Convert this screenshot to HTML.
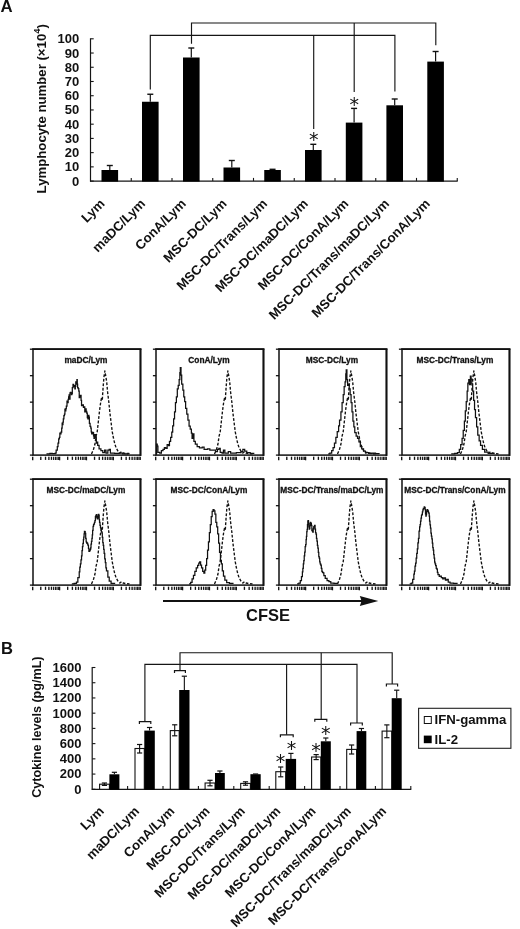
<!DOCTYPE html>
<html><head><meta charset="utf-8"><title>Figure</title>
<style>
html,body{margin:0;padding:0;background:#fff;}
body{width:520px;height:929px;overflow:hidden;}
svg{display:block;}
svg text{font-family:"Liberation Sans", sans-serif;fill:#111;}
</style></head><body>
<svg width="520" height="929" viewBox="0 0 520 929">
<rect x="0" y="0" width="520" height="929" fill="#fff"/>
<g id="panelA">
<text x="0.40" y="12.10" font-size="16.8" font-weight="bold" text-anchor="start" >A</text>
<text x="46.20" y="193.40" font-size="13.2" font-weight="bold" text-anchor="start" transform="rotate(-90 46.20 193.40)" >Lymphocyte number (×10<tspan font-size="9.5" dy="-6.3">4</tspan><tspan dy="6.3">)</tspan></text>
<line x1="90.50" y1="38.30" x2="90.50" y2="181.60" stroke="#151515" stroke-width="1.2" />
<line x1="90.00" y1="181.10" x2="457.75" y2="181.10" stroke="#151515" stroke-width="1.2" />
<line x1="90.50" y1="181.10" x2="93.70" y2="181.10" stroke="#151515" stroke-width="1.1" />
<text x="79.30" y="185.60" font-size="13" font-weight="bold" text-anchor="end" >0</text>
<line x1="90.50" y1="166.87" x2="93.70" y2="166.87" stroke="#151515" stroke-width="1.1" />
<text x="79.30" y="171.37" font-size="13" font-weight="bold" text-anchor="end" >10</text>
<line x1="90.50" y1="152.64" x2="93.70" y2="152.64" stroke="#151515" stroke-width="1.1" />
<text x="79.30" y="157.14" font-size="13" font-weight="bold" text-anchor="end" >20</text>
<line x1="90.50" y1="138.41" x2="93.70" y2="138.41" stroke="#151515" stroke-width="1.1" />
<text x="79.30" y="142.91" font-size="13" font-weight="bold" text-anchor="end" >30</text>
<line x1="90.50" y1="124.18" x2="93.70" y2="124.18" stroke="#151515" stroke-width="1.1" />
<text x="79.30" y="128.68" font-size="13" font-weight="bold" text-anchor="end" >40</text>
<line x1="90.50" y1="109.95" x2="93.70" y2="109.95" stroke="#151515" stroke-width="1.1" />
<text x="79.30" y="114.45" font-size="13" font-weight="bold" text-anchor="end" >50</text>
<line x1="90.50" y1="95.72" x2="93.70" y2="95.72" stroke="#151515" stroke-width="1.1" />
<text x="79.30" y="100.22" font-size="13" font-weight="bold" text-anchor="end" >60</text>
<line x1="90.50" y1="81.49" x2="93.70" y2="81.49" stroke="#151515" stroke-width="1.1" />
<text x="79.30" y="85.99" font-size="13" font-weight="bold" text-anchor="end" >70</text>
<line x1="90.50" y1="67.26" x2="93.70" y2="67.26" stroke="#151515" stroke-width="1.1" />
<text x="79.30" y="71.76" font-size="13" font-weight="bold" text-anchor="end" >80</text>
<line x1="90.50" y1="53.03" x2="93.70" y2="53.03" stroke="#151515" stroke-width="1.1" />
<text x="79.30" y="57.53" font-size="13" font-weight="bold" text-anchor="end" >90</text>
<line x1="90.50" y1="38.80" x2="93.70" y2="38.80" stroke="#151515" stroke-width="1.1" />
<text x="79.30" y="43.30" font-size="13" font-weight="bold" text-anchor="end" >100</text>
<line x1="131.25" y1="181.10" x2="131.25" y2="177.90" stroke="#151515" stroke-width="1.1" />
<line x1="172.00" y1="181.10" x2="172.00" y2="177.90" stroke="#151515" stroke-width="1.1" />
<line x1="212.75" y1="181.10" x2="212.75" y2="177.90" stroke="#151515" stroke-width="1.1" />
<line x1="253.50" y1="181.10" x2="253.50" y2="177.90" stroke="#151515" stroke-width="1.1" />
<line x1="294.25" y1="181.10" x2="294.25" y2="177.90" stroke="#151515" stroke-width="1.1" />
<line x1="335.00" y1="181.10" x2="335.00" y2="177.90" stroke="#151515" stroke-width="1.1" />
<line x1="375.75" y1="181.10" x2="375.75" y2="177.90" stroke="#151515" stroke-width="1.1" />
<line x1="416.50" y1="181.10" x2="416.50" y2="177.90" stroke="#151515" stroke-width="1.1" />
<line x1="457.25" y1="181.10" x2="457.25" y2="177.90" stroke="#151515" stroke-width="1.1" />
<rect x="101.50" y="170.00" width="16.60" height="11.60" fill="#000"/>
<line x1="109.80" y1="170.00" x2="109.80" y2="165.50" stroke="#111" stroke-width="1.2" />
<line x1="106.80" y1="165.50" x2="112.80" y2="165.50" stroke="#111" stroke-width="1.4" />
<rect x="142.00" y="101.75" width="16.60" height="79.85" fill="#000"/>
<line x1="150.30" y1="101.75" x2="150.30" y2="94.25" stroke="#111" stroke-width="1.2" />
<line x1="147.30" y1="94.25" x2="153.30" y2="94.25" stroke="#111" stroke-width="1.4" />
<rect x="183.00" y="57.50" width="16.60" height="124.10" fill="#000"/>
<line x1="191.30" y1="57.50" x2="191.30" y2="48.00" stroke="#111" stroke-width="1.2" />
<line x1="188.30" y1="48.00" x2="194.30" y2="48.00" stroke="#111" stroke-width="1.4" />
<rect x="223.50" y="167.50" width="16.60" height="14.10" fill="#000"/>
<line x1="231.80" y1="167.50" x2="231.80" y2="160.50" stroke="#111" stroke-width="1.2" />
<line x1="228.80" y1="160.50" x2="234.80" y2="160.50" stroke="#111" stroke-width="1.4" />
<rect x="264.25" y="170.00" width="16.60" height="11.60" fill="#000"/>
<line x1="272.55" y1="170.00" x2="272.55" y2="169.30" stroke="#111" stroke-width="1.2" />
<line x1="269.55" y1="169.30" x2="275.55" y2="169.30" stroke="#111" stroke-width="1.4" />
<rect x="305.00" y="150.00" width="16.60" height="31.60" fill="#000"/>
<line x1="313.30" y1="150.00" x2="313.30" y2="144.30" stroke="#111" stroke-width="1.2" />
<line x1="310.30" y1="144.30" x2="316.30" y2="144.30" stroke="#111" stroke-width="1.4" />
<rect x="345.80" y="122.60" width="16.60" height="59.00" fill="#000"/>
<line x1="354.10" y1="122.60" x2="354.10" y2="108.40" stroke="#111" stroke-width="1.2" />
<line x1="351.10" y1="108.40" x2="357.10" y2="108.40" stroke="#111" stroke-width="1.4" />
<rect x="386.40" y="105.30" width="16.60" height="76.30" fill="#000"/>
<line x1="394.70" y1="105.30" x2="394.70" y2="99.00" stroke="#111" stroke-width="1.2" />
<line x1="391.70" y1="99.00" x2="397.70" y2="99.00" stroke="#111" stroke-width="1.4" />
<rect x="427.30" y="61.60" width="16.60" height="120.00" fill="#000"/>
<line x1="435.60" y1="61.60" x2="435.60" y2="51.50" stroke="#111" stroke-width="1.2" />
<line x1="432.60" y1="51.50" x2="438.60" y2="51.50" stroke="#111" stroke-width="1.4" />
<polyline points="150.30,89.50 150.30,35.30 394.90,35.30 394.90,91.50" fill="none" stroke="#151515" stroke-width="1.15" />
<line x1="313.70" y1="35.30" x2="313.70" y2="129.00" stroke="#151515" stroke-width="1.15" />
<polyline points="191.50,43.80 191.50,23.00 435.80,23.00 435.80,45.30" fill="none" stroke="#151515" stroke-width="1.15" />
<line x1="354.20" y1="23.00" x2="354.20" y2="92.00" stroke="#151515" stroke-width="1.15" />
<text x="313.80" y="145.80" font-size="19" font-weight="normal" text-anchor="middle" style="font-family:'DejaVu Sans',sans-serif">*</text>
<text x="354.20" y="110.80" font-size="19" font-weight="normal" text-anchor="middle" style="font-family:'DejaVu Sans',sans-serif">*</text>
<text x="105.50" y="204.50" font-size="13.2" font-weight="bold" text-anchor="end" transform="rotate(-45 105.50 204.50)" >Lym</text>
<text x="146.15" y="204.50" font-size="13.2" font-weight="bold" text-anchor="end" transform="rotate(-45 146.15 204.50)" >maDC/Lym</text>
<text x="186.80" y="204.50" font-size="13.2" font-weight="bold" text-anchor="end" transform="rotate(-45 186.80 204.50)" >ConA/Lym</text>
<text x="227.45" y="204.50" font-size="13.2" font-weight="bold" text-anchor="end" transform="rotate(-45 227.45 204.50)" >MSC-DC/Lym</text>
<text x="268.10" y="204.50" font-size="13.2" font-weight="bold" text-anchor="end" transform="rotate(-45 268.10 204.50)" >MSC-DC/Trans/Lym</text>
<text x="308.75" y="204.50" font-size="13.2" font-weight="bold" text-anchor="end" transform="rotate(-45 308.75 204.50)" >MSC-DC/maDC/Lym</text>
<text x="349.40" y="204.50" font-size="13.2" font-weight="bold" text-anchor="end" transform="rotate(-45 349.40 204.50)" >MSC-DC/ConA/Lym</text>
<text x="390.05" y="204.50" font-size="13.2" font-weight="bold" text-anchor="end" transform="rotate(-45 390.05 204.50)" >MSC-DC/Trans/maDC/Lym</text>
<text x="430.70" y="204.50" font-size="13.2" font-weight="bold" text-anchor="end" transform="rotate(-45 430.70 204.50)" >MSC-DC/Trans/ConA/Lym</text>
</g>
<g id="hist">
<rect x="33.00" y="349.20" width="107.60" height="105.90" fill="none" stroke="#111" stroke-width="1.5"/>
<line x1="32.30" y1="349.20" x2="141.40" y2="349.20" stroke="#111" stroke-width="1.8" />
<line x1="140.40" y1="349.20" x2="140.40" y2="455.90" stroke="#111" stroke-width="1.8" />
<line x1="29.90" y1="349.20" x2="33.10" y2="349.20" stroke="#111" stroke-width="1.3" />
<line x1="29.90" y1="375.68" x2="33.10" y2="375.68" stroke="#111" stroke-width="1.3" />
<line x1="29.90" y1="402.15" x2="33.10" y2="402.15" stroke="#111" stroke-width="1.3" />
<line x1="29.90" y1="428.62" x2="33.10" y2="428.62" stroke="#111" stroke-width="1.3" />
<line x1="29.90" y1="455.10" x2="33.10" y2="455.10" stroke="#111" stroke-width="1.3" />
<line x1="32.70" y1="456.70" x2="32.70" y2="460.30" stroke="#111" stroke-width="1.35" />
<line x1="40.79" y1="456.70" x2="40.79" y2="459.90" stroke="#111" stroke-width="1.35" />
<line x1="45.52" y1="456.70" x2="45.52" y2="459.90" stroke="#111" stroke-width="1.35" />
<line x1="48.88" y1="456.70" x2="48.88" y2="459.90" stroke="#111" stroke-width="1.35" />
<line x1="51.48" y1="456.70" x2="51.48" y2="459.90" stroke="#111" stroke-width="1.35" />
<line x1="53.61" y1="456.70" x2="53.61" y2="459.90" stroke="#111" stroke-width="1.1" />
<line x1="55.41" y1="456.70" x2="55.41" y2="459.90" stroke="#111" stroke-width="1.1" />
<line x1="56.97" y1="456.70" x2="56.97" y2="459.90" stroke="#111" stroke-width="1.1" />
<line x1="58.35" y1="456.70" x2="58.35" y2="459.90" stroke="#111" stroke-width="1.1" />
<line x1="59.58" y1="456.70" x2="59.58" y2="460.30" stroke="#111" stroke-width="1.35" />
<line x1="67.67" y1="456.70" x2="67.67" y2="459.90" stroke="#111" stroke-width="1.35" />
<line x1="72.40" y1="456.70" x2="72.40" y2="459.90" stroke="#111" stroke-width="1.35" />
<line x1="75.76" y1="456.70" x2="75.76" y2="459.90" stroke="#111" stroke-width="1.35" />
<line x1="78.36" y1="456.70" x2="78.36" y2="459.90" stroke="#111" stroke-width="1.35" />
<line x1="80.49" y1="456.70" x2="80.49" y2="459.90" stroke="#111" stroke-width="1.1" />
<line x1="82.29" y1="456.70" x2="82.29" y2="459.90" stroke="#111" stroke-width="1.1" />
<line x1="83.85" y1="456.70" x2="83.85" y2="459.90" stroke="#111" stroke-width="1.1" />
<line x1="85.22" y1="456.70" x2="85.22" y2="459.90" stroke="#111" stroke-width="1.1" />
<line x1="86.45" y1="456.70" x2="86.45" y2="460.30" stroke="#111" stroke-width="1.35" />
<line x1="94.54" y1="456.70" x2="94.54" y2="459.90" stroke="#111" stroke-width="1.35" />
<line x1="99.27" y1="456.70" x2="99.27" y2="459.90" stroke="#111" stroke-width="1.35" />
<line x1="102.63" y1="456.70" x2="102.63" y2="459.90" stroke="#111" stroke-width="1.35" />
<line x1="105.23" y1="456.70" x2="105.23" y2="459.90" stroke="#111" stroke-width="1.35" />
<line x1="107.36" y1="456.70" x2="107.36" y2="459.90" stroke="#111" stroke-width="1.1" />
<line x1="109.16" y1="456.70" x2="109.16" y2="459.90" stroke="#111" stroke-width="1.1" />
<line x1="110.72" y1="456.70" x2="110.72" y2="459.90" stroke="#111" stroke-width="1.1" />
<line x1="112.10" y1="456.70" x2="112.10" y2="459.90" stroke="#111" stroke-width="1.1" />
<line x1="113.32" y1="456.70" x2="113.32" y2="460.30" stroke="#111" stroke-width="1.35" />
<line x1="121.42" y1="456.70" x2="121.42" y2="459.90" stroke="#111" stroke-width="1.35" />
<line x1="126.15" y1="456.70" x2="126.15" y2="459.90" stroke="#111" stroke-width="1.35" />
<line x1="129.51" y1="456.70" x2="129.51" y2="459.90" stroke="#111" stroke-width="1.35" />
<line x1="132.11" y1="456.70" x2="132.11" y2="459.90" stroke="#111" stroke-width="1.35" />
<line x1="134.24" y1="456.70" x2="134.24" y2="459.90" stroke="#111" stroke-width="1.1" />
<line x1="136.04" y1="456.70" x2="136.04" y2="459.90" stroke="#111" stroke-width="1.1" />
<line x1="137.60" y1="456.70" x2="137.60" y2="459.90" stroke="#111" stroke-width="1.1" />
<line x1="138.97" y1="456.70" x2="138.97" y2="459.90" stroke="#111" stroke-width="1.1" />
<line x1="140.20" y1="456.70" x2="140.20" y2="459.90" stroke="#111" stroke-width="1.35" />
<text x="85.95" y="362.60" font-size="8.32" font-weight="bold" text-anchor="middle" stroke="#111" stroke-width="0.3">maDC/Lym</text>
<polyline points="91.46,453.92 93.31,450.00 94.92,444.23 96.08,436.15 97.23,431.54 98.39,421.15 99.54,410.77 100.46,403.85 101.39,398.54 102.31,399.92 103.00,388.85 103.92,377.31 104.85,370.85 105.77,376.15 106.69,381.92 107.62,392.31 108.77,401.54 109.92,413.08 111.08,422.31 112.23,431.54 113.39,437.77 114.77,443.77 116.15,447.92 118.00,451.15 119.85,453.00 121.46,451.62 123.08,453.00 126.08,453.69 129.54,453.92" fill="none" stroke="#111" stroke-width="1.35" stroke-dasharray="2.8 1.7" stroke-linejoin="round"/>
<polyline points="46.46,453.92 49.92,453.92 49.92,453.46 52.23,453.46 52.23,453.69 55.23,453.69 55.23,453.00 56.15,453.00 56.15,450.00 57.31,450.00 57.31,446.54 58.00,446.54 58.00,443.08 58.69,443.08 58.69,438.89 59.38,438.89 59.38,437.31 59.85,437.31 59.85,433.00 60.31,433.00 60.31,433.85 61.00,433.85 61.00,432.08 61.69,432.08 61.69,428.08 62.15,428.08 62.15,423.19 62.62,423.19 62.62,424.62 62.96,424.62 62.96,422.00 63.31,422.00 63.31,418.85 63.88,418.85 63.88,415.55 64.46,415.55 64.46,414.23 64.92,414.23 64.92,409.24 65.38,409.24 65.38,410.77 65.85,410.77 65.85,408.52 66.31,408.52 66.31,406.15 67.00,406.15 67.00,401.01 67.69,401.01 67.69,402.69 68.15,402.69 68.15,399.32 68.62,399.32 68.62,396.92 69.08,396.92 69.08,394.90 69.54,394.90 69.54,399.23 70.00,399.23 70.00,392.75 70.46,392.75 70.46,392.31 70.92,392.31 70.92,392.90 71.38,392.90 71.38,394.62 71.85,394.62 71.85,393.57 72.31,393.57 72.31,387.69 73.00,387.69 73.00,384.34 73.69,384.34 73.69,386.54 74.27,386.54 74.27,385.65 74.85,385.65 74.85,388.85 75.31,388.85 75.31,386.33 75.77,386.33 75.77,381.92 76.35,381.92 76.35,384.08 76.92,384.08 76.92,379.62 77.27,379.62 77.27,384.22 77.62,384.22 77.62,387.69 78.19,387.69 78.19,388.66 78.77,388.66 78.77,391.15 79.23,391.15 79.23,397.56 79.69,397.56 79.69,396.92 80.39,396.92 80.39,395.31 81.08,395.31 81.08,400.39 81.54,400.39 81.54,405.57 82.00,405.57 82.00,405.46 82.69,405.46 82.69,404.83 83.39,404.83 83.39,407.31 84.08,407.31 84.08,406.99 84.77,406.99 84.77,411.92 85.46,411.92 85.46,408.87 86.15,408.87 86.15,411.46 86.73,411.46 86.73,413.16 87.31,413.16 87.31,417.69 87.89,417.69 87.89,418.87 88.46,418.87 88.46,415.39 88.92,415.39 88.92,417.07 89.39,417.07 89.39,423.46 90.08,423.46 90.08,426.37 90.77,426.37 90.77,428.08 91.23,428.08 91.23,431.99 91.69,431.99 91.69,433.85 92.39,433.85 92.39,432.33 93.08,432.33 93.08,432.69 93.54,432.69 93.54,435.93 94.00,435.93 94.00,438.46 94.69,438.46 94.69,434.66 95.39,434.66 95.39,437.31 95.85,437.31 95.85,436.94 96.31,436.94 96.31,443.08 97.00,443.08 97.00,442.06 97.69,442.06 97.69,445.39 99.08,445.39 99.08,448.85 100.92,448.85 100.92,450.69 102.77,450.69 102.77,452.54 104.62,452.54 104.62,450.00 106.00,450.00 106.00,453.00 107.85,453.00 107.85,450.00 109.23,450.00 109.23,449.31 110.39,449.31 110.39,453.00 114.54,453.00 114.54,453.46 119.15,453.46 119.15,453.00 122.62,453.00 122.62,453.92 127.23,453.92 127.23,453.46 128.62,453.46 128.62,453.92" fill="none" stroke="#111" stroke-width="1.25" stroke-linejoin="miter"/>
<rect x="156.00" y="349.20" width="107.60" height="105.90" fill="none" stroke="#111" stroke-width="1.5"/>
<line x1="155.30" y1="349.20" x2="264.40" y2="349.20" stroke="#111" stroke-width="1.8" />
<line x1="263.40" y1="349.20" x2="263.40" y2="455.90" stroke="#111" stroke-width="1.8" />
<line x1="152.90" y1="349.20" x2="156.10" y2="349.20" stroke="#111" stroke-width="1.3" />
<line x1="152.90" y1="375.68" x2="156.10" y2="375.68" stroke="#111" stroke-width="1.3" />
<line x1="152.90" y1="402.15" x2="156.10" y2="402.15" stroke="#111" stroke-width="1.3" />
<line x1="152.90" y1="428.62" x2="156.10" y2="428.62" stroke="#111" stroke-width="1.3" />
<line x1="152.90" y1="455.10" x2="156.10" y2="455.10" stroke="#111" stroke-width="1.3" />
<line x1="155.70" y1="456.70" x2="155.70" y2="460.30" stroke="#111" stroke-width="1.35" />
<line x1="163.79" y1="456.70" x2="163.79" y2="459.90" stroke="#111" stroke-width="1.35" />
<line x1="168.52" y1="456.70" x2="168.52" y2="459.90" stroke="#111" stroke-width="1.35" />
<line x1="171.88" y1="456.70" x2="171.88" y2="459.90" stroke="#111" stroke-width="1.35" />
<line x1="174.48" y1="456.70" x2="174.48" y2="459.90" stroke="#111" stroke-width="1.35" />
<line x1="176.61" y1="456.70" x2="176.61" y2="459.90" stroke="#111" stroke-width="1.1" />
<line x1="178.41" y1="456.70" x2="178.41" y2="459.90" stroke="#111" stroke-width="1.1" />
<line x1="179.97" y1="456.70" x2="179.97" y2="459.90" stroke="#111" stroke-width="1.1" />
<line x1="181.35" y1="456.70" x2="181.35" y2="459.90" stroke="#111" stroke-width="1.1" />
<line x1="182.57" y1="456.70" x2="182.57" y2="460.30" stroke="#111" stroke-width="1.35" />
<line x1="190.67" y1="456.70" x2="190.67" y2="459.90" stroke="#111" stroke-width="1.35" />
<line x1="195.40" y1="456.70" x2="195.40" y2="459.90" stroke="#111" stroke-width="1.35" />
<line x1="198.76" y1="456.70" x2="198.76" y2="459.90" stroke="#111" stroke-width="1.35" />
<line x1="201.36" y1="456.70" x2="201.36" y2="459.90" stroke="#111" stroke-width="1.35" />
<line x1="203.49" y1="456.70" x2="203.49" y2="459.90" stroke="#111" stroke-width="1.1" />
<line x1="205.29" y1="456.70" x2="205.29" y2="459.90" stroke="#111" stroke-width="1.1" />
<line x1="206.85" y1="456.70" x2="206.85" y2="459.90" stroke="#111" stroke-width="1.1" />
<line x1="208.22" y1="456.70" x2="208.22" y2="459.90" stroke="#111" stroke-width="1.1" />
<line x1="209.45" y1="456.70" x2="209.45" y2="460.30" stroke="#111" stroke-width="1.35" />
<line x1="217.54" y1="456.70" x2="217.54" y2="459.90" stroke="#111" stroke-width="1.35" />
<line x1="222.27" y1="456.70" x2="222.27" y2="459.90" stroke="#111" stroke-width="1.35" />
<line x1="225.63" y1="456.70" x2="225.63" y2="459.90" stroke="#111" stroke-width="1.35" />
<line x1="228.23" y1="456.70" x2="228.23" y2="459.90" stroke="#111" stroke-width="1.35" />
<line x1="230.36" y1="456.70" x2="230.36" y2="459.90" stroke="#111" stroke-width="1.1" />
<line x1="232.16" y1="456.70" x2="232.16" y2="459.90" stroke="#111" stroke-width="1.1" />
<line x1="233.72" y1="456.70" x2="233.72" y2="459.90" stroke="#111" stroke-width="1.1" />
<line x1="235.10" y1="456.70" x2="235.10" y2="459.90" stroke="#111" stroke-width="1.1" />
<line x1="236.32" y1="456.70" x2="236.32" y2="460.30" stroke="#111" stroke-width="1.35" />
<line x1="244.42" y1="456.70" x2="244.42" y2="459.90" stroke="#111" stroke-width="1.35" />
<line x1="249.15" y1="456.70" x2="249.15" y2="459.90" stroke="#111" stroke-width="1.35" />
<line x1="252.51" y1="456.70" x2="252.51" y2="459.90" stroke="#111" stroke-width="1.35" />
<line x1="255.11" y1="456.70" x2="255.11" y2="459.90" stroke="#111" stroke-width="1.35" />
<line x1="257.24" y1="456.70" x2="257.24" y2="459.90" stroke="#111" stroke-width="1.1" />
<line x1="259.04" y1="456.70" x2="259.04" y2="459.90" stroke="#111" stroke-width="1.1" />
<line x1="260.60" y1="456.70" x2="260.60" y2="459.90" stroke="#111" stroke-width="1.1" />
<line x1="261.97" y1="456.70" x2="261.97" y2="459.90" stroke="#111" stroke-width="1.1" />
<line x1="263.20" y1="456.70" x2="263.20" y2="459.90" stroke="#111" stroke-width="1.35" />
<text x="208.95" y="362.60" font-size="8.32" font-weight="bold" text-anchor="middle" stroke="#111" stroke-width="0.3">ConA/Lym</text>
<polyline points="214.46,453.92 216.31,450.00 217.92,444.23 219.08,436.15 220.23,431.54 221.39,421.15 222.54,410.77 223.46,403.85 224.39,398.54 225.31,399.92 226.00,388.85 226.92,377.31 227.85,370.85 228.77,376.15 229.69,381.92 230.62,392.31 231.77,401.54 232.92,413.08 234.08,422.31 235.23,431.54 236.39,437.77 237.77,443.77 239.15,447.92 241.00,451.15 242.85,453.00 244.46,451.62 246.08,453.00 249.08,453.69 252.54,453.92" fill="none" stroke="#111" stroke-width="1.35" stroke-dasharray="2.8 1.7" stroke-linejoin="round"/>
<polyline points="156.08,453.92 156.54,453.92 156.54,444.23 157.23,444.23 157.23,446.08 157.92,446.08 157.92,452.31 159.77,452.31 159.77,453.00 161.38,453.00 161.38,450.69 163.00,450.69 163.00,449.31 164.38,449.31 164.38,447.69 165.77,447.69 165.77,448.39 167.15,448.39 167.15,444.69 168.54,444.69 168.54,445.62 169.46,445.62 169.46,441.46 170.62,441.46 170.62,437.31 171.77,437.31 171.77,432.23 172.69,432.23 172.69,425.77 173.62,425.77 173.62,418.85 174.54,418.85 174.54,411.92 175.46,411.92 175.46,402.69 176.38,402.69 176.38,396.92 177.31,396.92 177.31,388.85 178.23,388.85 178.23,385.38 179.15,385.38 179.15,379.62 179.85,379.62 179.85,372.69 180.31,372.69 180.31,367.62 181.00,367.62 181.00,375.00 181.69,375.00 181.69,384.23 182.85,384.23 182.85,390.00 183.77,390.00 183.77,396.92 184.69,396.92 184.69,401.54 185.62,401.54 185.62,408.46 186.77,408.46 186.77,414.23 187.92,414.23 187.92,420.00 189.08,420.00 189.08,426.23 190.23,426.23 190.23,429.23 191.38,429.23 191.38,433.15 192.08,433.15 192.08,438.46 193.00,438.46 193.00,433.85 193.92,433.85 193.92,441.46 195.31,441.46 195.31,444.23 197.15,444.23 197.15,446.54 199.46,446.54 199.46,447.92 202.23,447.92 202.23,447.00 204.08,447.00 204.08,449.31 207.54,449.31 207.54,448.85 209.85,448.85 209.85,450.23 213.31,450.23 213.31,450.00 215.62,450.00 215.62,451.62 217.46,451.62 217.46,449.31 218.85,449.31 218.85,448.39 220.23,448.39 220.23,452.31 222.08,452.31 222.08,453.00 223.46,453.00 223.46,450.00 224.85,450.00 224.85,453.00 228.31,453.00 228.31,451.62 230.62,451.62 230.62,453.00 236.39,453.00 236.39,452.54 241.00,452.54 241.00,451.62 242.85,451.62 242.85,449.31 244.69,449.31 244.69,451.15 246.77,451.15 246.77,452.54 250.23,452.54 250.23,453.46 253.69,453.46 253.69,453.92" fill="none" stroke="#111" stroke-width="1.25" stroke-linejoin="miter"/>
<rect x="279.00" y="349.20" width="107.60" height="105.90" fill="none" stroke="#111" stroke-width="1.5"/>
<line x1="278.30" y1="349.20" x2="387.40" y2="349.20" stroke="#111" stroke-width="1.8" />
<line x1="386.40" y1="349.20" x2="386.40" y2="455.90" stroke="#111" stroke-width="1.8" />
<line x1="275.90" y1="349.20" x2="279.10" y2="349.20" stroke="#111" stroke-width="1.3" />
<line x1="275.90" y1="375.68" x2="279.10" y2="375.68" stroke="#111" stroke-width="1.3" />
<line x1="275.90" y1="402.15" x2="279.10" y2="402.15" stroke="#111" stroke-width="1.3" />
<line x1="275.90" y1="428.62" x2="279.10" y2="428.62" stroke="#111" stroke-width="1.3" />
<line x1="275.90" y1="455.10" x2="279.10" y2="455.10" stroke="#111" stroke-width="1.3" />
<line x1="278.70" y1="456.70" x2="278.70" y2="460.30" stroke="#111" stroke-width="1.35" />
<line x1="286.79" y1="456.70" x2="286.79" y2="459.90" stroke="#111" stroke-width="1.35" />
<line x1="291.52" y1="456.70" x2="291.52" y2="459.90" stroke="#111" stroke-width="1.35" />
<line x1="294.88" y1="456.70" x2="294.88" y2="459.90" stroke="#111" stroke-width="1.35" />
<line x1="297.48" y1="456.70" x2="297.48" y2="459.90" stroke="#111" stroke-width="1.35" />
<line x1="299.61" y1="456.70" x2="299.61" y2="459.90" stroke="#111" stroke-width="1.1" />
<line x1="301.41" y1="456.70" x2="301.41" y2="459.90" stroke="#111" stroke-width="1.1" />
<line x1="302.97" y1="456.70" x2="302.97" y2="459.90" stroke="#111" stroke-width="1.1" />
<line x1="304.35" y1="456.70" x2="304.35" y2="459.90" stroke="#111" stroke-width="1.1" />
<line x1="305.58" y1="456.70" x2="305.58" y2="460.30" stroke="#111" stroke-width="1.35" />
<line x1="313.67" y1="456.70" x2="313.67" y2="459.90" stroke="#111" stroke-width="1.35" />
<line x1="318.40" y1="456.70" x2="318.40" y2="459.90" stroke="#111" stroke-width="1.35" />
<line x1="321.76" y1="456.70" x2="321.76" y2="459.90" stroke="#111" stroke-width="1.35" />
<line x1="324.36" y1="456.70" x2="324.36" y2="459.90" stroke="#111" stroke-width="1.35" />
<line x1="326.49" y1="456.70" x2="326.49" y2="459.90" stroke="#111" stroke-width="1.1" />
<line x1="328.29" y1="456.70" x2="328.29" y2="459.90" stroke="#111" stroke-width="1.1" />
<line x1="329.85" y1="456.70" x2="329.85" y2="459.90" stroke="#111" stroke-width="1.1" />
<line x1="331.22" y1="456.70" x2="331.22" y2="459.90" stroke="#111" stroke-width="1.1" />
<line x1="332.45" y1="456.70" x2="332.45" y2="460.30" stroke="#111" stroke-width="1.35" />
<line x1="340.54" y1="456.70" x2="340.54" y2="459.90" stroke="#111" stroke-width="1.35" />
<line x1="345.27" y1="456.70" x2="345.27" y2="459.90" stroke="#111" stroke-width="1.35" />
<line x1="348.63" y1="456.70" x2="348.63" y2="459.90" stroke="#111" stroke-width="1.35" />
<line x1="351.23" y1="456.70" x2="351.23" y2="459.90" stroke="#111" stroke-width="1.35" />
<line x1="353.36" y1="456.70" x2="353.36" y2="459.90" stroke="#111" stroke-width="1.1" />
<line x1="355.16" y1="456.70" x2="355.16" y2="459.90" stroke="#111" stroke-width="1.1" />
<line x1="356.72" y1="456.70" x2="356.72" y2="459.90" stroke="#111" stroke-width="1.1" />
<line x1="358.10" y1="456.70" x2="358.10" y2="459.90" stroke="#111" stroke-width="1.1" />
<line x1="359.33" y1="456.70" x2="359.33" y2="460.30" stroke="#111" stroke-width="1.35" />
<line x1="367.42" y1="456.70" x2="367.42" y2="459.90" stroke="#111" stroke-width="1.35" />
<line x1="372.15" y1="456.70" x2="372.15" y2="459.90" stroke="#111" stroke-width="1.35" />
<line x1="375.51" y1="456.70" x2="375.51" y2="459.90" stroke="#111" stroke-width="1.35" />
<line x1="378.11" y1="456.70" x2="378.11" y2="459.90" stroke="#111" stroke-width="1.35" />
<line x1="380.24" y1="456.70" x2="380.24" y2="459.90" stroke="#111" stroke-width="1.1" />
<line x1="382.04" y1="456.70" x2="382.04" y2="459.90" stroke="#111" stroke-width="1.1" />
<line x1="383.60" y1="456.70" x2="383.60" y2="459.90" stroke="#111" stroke-width="1.1" />
<line x1="384.97" y1="456.70" x2="384.97" y2="459.90" stroke="#111" stroke-width="1.1" />
<line x1="386.20" y1="456.70" x2="386.20" y2="459.90" stroke="#111" stroke-width="1.35" />
<text x="331.95" y="362.60" font-size="8.32" font-weight="bold" text-anchor="middle" stroke="#111" stroke-width="0.3">MSC-DC/Lym</text>
<polyline points="337.46,453.92 339.31,450.00 340.92,444.23 342.08,436.15 343.23,431.54 344.39,421.15 345.54,410.77 346.46,403.85 347.39,398.54 348.31,399.92 349.00,388.85 349.92,377.31 350.85,370.85 351.77,376.15 352.69,381.92 353.62,392.31 354.77,401.54 355.92,413.08 357.08,422.31 358.23,431.54 359.39,437.77 360.77,443.77 362.15,447.92 364.00,451.15 365.85,453.00 367.46,451.62 369.08,453.00 372.08,453.69 375.54,453.92" fill="none" stroke="#111" stroke-width="1.35" stroke-dasharray="2.8 1.7" stroke-linejoin="round"/>
<polyline points="328.23,453.92 329.85,453.92 329.85,453.00 331.69,453.00 331.69,450.69 333.08,450.69 333.08,447.69 334.46,447.69 334.46,443.08 335.85,443.08 335.85,437.31 337.23,437.31 337.23,431.54 338.62,431.54 338.62,425.77 339.54,425.77 339.54,420.00 340.92,420.00 340.92,411.92 342.08,411.92 342.08,402.69 343.23,402.69 343.23,394.62 344.15,394.62 344.15,386.54 345.08,386.54 345.08,381.92 345.77,381.92 345.77,373.85 346.23,373.85 346.23,369.92 346.92,369.92 346.92,379.62 347.62,379.62 347.62,385.38 348.54,385.38 348.54,384.23 349.23,384.23 349.23,388.85 350.15,388.85 350.15,394.62 351.08,394.62 351.08,402.69 352.00,402.69 352.00,411.92 352.92,411.92 352.92,421.15 353.85,421.15 353.85,426.92 354.77,426.92 354.77,432.69 356.15,432.69 356.15,436.15 357.54,436.15 357.54,438.46 358.92,438.46 358.92,441.92 360.31,441.92 360.31,446.54 361.69,446.54 361.69,448.85 363.54,448.85 363.54,451.15 365.39,451.15 365.39,452.54 368.62,452.54 368.62,453.46 372.08,453.46 372.08,453.00 375.54,453.00 375.54,453.69 379.00,453.69 379.00,453.92" fill="none" stroke="#111" stroke-width="1.25" stroke-linejoin="miter"/>
<rect x="402.00" y="349.20" width="107.60" height="105.90" fill="none" stroke="#111" stroke-width="1.5"/>
<line x1="401.30" y1="349.20" x2="510.40" y2="349.20" stroke="#111" stroke-width="1.8" />
<line x1="509.40" y1="349.20" x2="509.40" y2="455.90" stroke="#111" stroke-width="1.8" />
<line x1="398.90" y1="349.20" x2="402.10" y2="349.20" stroke="#111" stroke-width="1.3" />
<line x1="398.90" y1="375.68" x2="402.10" y2="375.68" stroke="#111" stroke-width="1.3" />
<line x1="398.90" y1="402.15" x2="402.10" y2="402.15" stroke="#111" stroke-width="1.3" />
<line x1="398.90" y1="428.62" x2="402.10" y2="428.62" stroke="#111" stroke-width="1.3" />
<line x1="398.90" y1="455.10" x2="402.10" y2="455.10" stroke="#111" stroke-width="1.3" />
<line x1="401.70" y1="456.70" x2="401.70" y2="460.30" stroke="#111" stroke-width="1.35" />
<line x1="409.79" y1="456.70" x2="409.79" y2="459.90" stroke="#111" stroke-width="1.35" />
<line x1="414.52" y1="456.70" x2="414.52" y2="459.90" stroke="#111" stroke-width="1.35" />
<line x1="417.88" y1="456.70" x2="417.88" y2="459.90" stroke="#111" stroke-width="1.35" />
<line x1="420.48" y1="456.70" x2="420.48" y2="459.90" stroke="#111" stroke-width="1.35" />
<line x1="422.61" y1="456.70" x2="422.61" y2="459.90" stroke="#111" stroke-width="1.1" />
<line x1="424.41" y1="456.70" x2="424.41" y2="459.90" stroke="#111" stroke-width="1.1" />
<line x1="425.97" y1="456.70" x2="425.97" y2="459.90" stroke="#111" stroke-width="1.1" />
<line x1="427.35" y1="456.70" x2="427.35" y2="459.90" stroke="#111" stroke-width="1.1" />
<line x1="428.58" y1="456.70" x2="428.58" y2="460.30" stroke="#111" stroke-width="1.35" />
<line x1="436.67" y1="456.70" x2="436.67" y2="459.90" stroke="#111" stroke-width="1.35" />
<line x1="441.40" y1="456.70" x2="441.40" y2="459.90" stroke="#111" stroke-width="1.35" />
<line x1="444.76" y1="456.70" x2="444.76" y2="459.90" stroke="#111" stroke-width="1.35" />
<line x1="447.36" y1="456.70" x2="447.36" y2="459.90" stroke="#111" stroke-width="1.35" />
<line x1="449.49" y1="456.70" x2="449.49" y2="459.90" stroke="#111" stroke-width="1.1" />
<line x1="451.29" y1="456.70" x2="451.29" y2="459.90" stroke="#111" stroke-width="1.1" />
<line x1="452.85" y1="456.70" x2="452.85" y2="459.90" stroke="#111" stroke-width="1.1" />
<line x1="454.22" y1="456.70" x2="454.22" y2="459.90" stroke="#111" stroke-width="1.1" />
<line x1="455.45" y1="456.70" x2="455.45" y2="460.30" stroke="#111" stroke-width="1.35" />
<line x1="463.54" y1="456.70" x2="463.54" y2="459.90" stroke="#111" stroke-width="1.35" />
<line x1="468.27" y1="456.70" x2="468.27" y2="459.90" stroke="#111" stroke-width="1.35" />
<line x1="471.63" y1="456.70" x2="471.63" y2="459.90" stroke="#111" stroke-width="1.35" />
<line x1="474.23" y1="456.70" x2="474.23" y2="459.90" stroke="#111" stroke-width="1.35" />
<line x1="476.36" y1="456.70" x2="476.36" y2="459.90" stroke="#111" stroke-width="1.1" />
<line x1="478.16" y1="456.70" x2="478.16" y2="459.90" stroke="#111" stroke-width="1.1" />
<line x1="479.72" y1="456.70" x2="479.72" y2="459.90" stroke="#111" stroke-width="1.1" />
<line x1="481.10" y1="456.70" x2="481.10" y2="459.90" stroke="#111" stroke-width="1.1" />
<line x1="482.33" y1="456.70" x2="482.33" y2="460.30" stroke="#111" stroke-width="1.35" />
<line x1="490.42" y1="456.70" x2="490.42" y2="459.90" stroke="#111" stroke-width="1.35" />
<line x1="495.15" y1="456.70" x2="495.15" y2="459.90" stroke="#111" stroke-width="1.35" />
<line x1="498.51" y1="456.70" x2="498.51" y2="459.90" stroke="#111" stroke-width="1.35" />
<line x1="501.11" y1="456.70" x2="501.11" y2="459.90" stroke="#111" stroke-width="1.35" />
<line x1="503.24" y1="456.70" x2="503.24" y2="459.90" stroke="#111" stroke-width="1.1" />
<line x1="505.04" y1="456.70" x2="505.04" y2="459.90" stroke="#111" stroke-width="1.1" />
<line x1="506.60" y1="456.70" x2="506.60" y2="459.90" stroke="#111" stroke-width="1.1" />
<line x1="507.97" y1="456.70" x2="507.97" y2="459.90" stroke="#111" stroke-width="1.1" />
<line x1="509.20" y1="456.70" x2="509.20" y2="459.90" stroke="#111" stroke-width="1.35" />
<text x="454.95" y="362.60" font-size="8.32" font-weight="bold" text-anchor="middle" stroke="#111" stroke-width="0.3">MSC-DC/Trans/Lym</text>
<polyline points="460.46,453.92 462.31,450.00 463.92,444.23 465.08,436.15 466.23,431.54 467.39,421.15 468.54,410.77 469.46,403.85 470.39,398.54 471.31,399.92 472.00,388.85 472.92,377.31 473.85,370.85 474.77,376.15 475.69,381.92 476.62,392.31 477.77,401.54 478.92,413.08 480.08,422.31 481.23,431.54 482.39,437.77 483.77,443.77 485.15,447.92 487.00,451.15 488.85,453.00 490.46,451.62 492.08,453.00 495.08,453.69 498.54,453.92" fill="none" stroke="#111" stroke-width="1.35" stroke-dasharray="2.8 1.7" stroke-linejoin="round"/>
<polyline points="451.23,453.92 454.69,453.92 454.69,453.46 457.46,453.46 457.46,452.54 459.31,452.54 459.31,449.31 460.69,449.31 460.69,444.69 462.08,444.69 462.08,438.46 463.23,438.46 463.23,430.39 464.39,430.39 464.39,421.15 465.31,421.15 465.31,410.77 466.23,410.77 466.23,401.54 467.15,401.54 467.15,391.15 467.85,391.15 467.85,383.08 468.77,383.08 468.77,379.62 469.46,379.62 469.46,384.69 470.39,384.69 470.39,376.15 471.08,376.15 471.08,379.15 471.77,379.15 471.77,384.23 472.69,384.23 472.69,391.15 473.62,391.15 473.62,400.39 474.54,400.39 474.54,409.62 475.46,409.62 475.46,417.69 476.62,417.69 476.62,426.92 477.77,426.92 477.77,435.00 479.15,435.00 479.15,440.77 480.54,440.77 480.54,445.39 482.39,445.39 482.39,449.31 484.69,449.31 484.69,452.08 488.15,452.08 488.15,453.46 493.92,453.46 493.92,453.92" fill="none" stroke="#111" stroke-width="1.25" stroke-linejoin="miter"/>
<rect x="33.00" y="479.20" width="107.60" height="105.90" fill="none" stroke="#111" stroke-width="1.5"/>
<line x1="32.30" y1="479.20" x2="141.40" y2="479.20" stroke="#111" stroke-width="1.8" />
<line x1="140.40" y1="479.20" x2="140.40" y2="585.90" stroke="#111" stroke-width="1.8" />
<line x1="29.90" y1="479.20" x2="33.10" y2="479.20" stroke="#111" stroke-width="1.3" />
<line x1="29.90" y1="505.68" x2="33.10" y2="505.68" stroke="#111" stroke-width="1.3" />
<line x1="29.90" y1="532.15" x2="33.10" y2="532.15" stroke="#111" stroke-width="1.3" />
<line x1="29.90" y1="558.62" x2="33.10" y2="558.62" stroke="#111" stroke-width="1.3" />
<line x1="29.90" y1="585.10" x2="33.10" y2="585.10" stroke="#111" stroke-width="1.3" />
<line x1="32.70" y1="586.70" x2="32.70" y2="590.30" stroke="#111" stroke-width="1.35" />
<line x1="40.79" y1="586.70" x2="40.79" y2="589.90" stroke="#111" stroke-width="1.35" />
<line x1="45.52" y1="586.70" x2="45.52" y2="589.90" stroke="#111" stroke-width="1.35" />
<line x1="48.88" y1="586.70" x2="48.88" y2="589.90" stroke="#111" stroke-width="1.35" />
<line x1="51.48" y1="586.70" x2="51.48" y2="589.90" stroke="#111" stroke-width="1.35" />
<line x1="53.61" y1="586.70" x2="53.61" y2="589.90" stroke="#111" stroke-width="1.1" />
<line x1="55.41" y1="586.70" x2="55.41" y2="589.90" stroke="#111" stroke-width="1.1" />
<line x1="56.97" y1="586.70" x2="56.97" y2="589.90" stroke="#111" stroke-width="1.1" />
<line x1="58.35" y1="586.70" x2="58.35" y2="589.90" stroke="#111" stroke-width="1.1" />
<line x1="59.58" y1="586.70" x2="59.58" y2="590.30" stroke="#111" stroke-width="1.35" />
<line x1="67.67" y1="586.70" x2="67.67" y2="589.90" stroke="#111" stroke-width="1.35" />
<line x1="72.40" y1="586.70" x2="72.40" y2="589.90" stroke="#111" stroke-width="1.35" />
<line x1="75.76" y1="586.70" x2="75.76" y2="589.90" stroke="#111" stroke-width="1.35" />
<line x1="78.36" y1="586.70" x2="78.36" y2="589.90" stroke="#111" stroke-width="1.35" />
<line x1="80.49" y1="586.70" x2="80.49" y2="589.90" stroke="#111" stroke-width="1.1" />
<line x1="82.29" y1="586.70" x2="82.29" y2="589.90" stroke="#111" stroke-width="1.1" />
<line x1="83.85" y1="586.70" x2="83.85" y2="589.90" stroke="#111" stroke-width="1.1" />
<line x1="85.22" y1="586.70" x2="85.22" y2="589.90" stroke="#111" stroke-width="1.1" />
<line x1="86.45" y1="586.70" x2="86.45" y2="590.30" stroke="#111" stroke-width="1.35" />
<line x1="94.54" y1="586.70" x2="94.54" y2="589.90" stroke="#111" stroke-width="1.35" />
<line x1="99.27" y1="586.70" x2="99.27" y2="589.90" stroke="#111" stroke-width="1.35" />
<line x1="102.63" y1="586.70" x2="102.63" y2="589.90" stroke="#111" stroke-width="1.35" />
<line x1="105.23" y1="586.70" x2="105.23" y2="589.90" stroke="#111" stroke-width="1.35" />
<line x1="107.36" y1="586.70" x2="107.36" y2="589.90" stroke="#111" stroke-width="1.1" />
<line x1="109.16" y1="586.70" x2="109.16" y2="589.90" stroke="#111" stroke-width="1.1" />
<line x1="110.72" y1="586.70" x2="110.72" y2="589.90" stroke="#111" stroke-width="1.1" />
<line x1="112.10" y1="586.70" x2="112.10" y2="589.90" stroke="#111" stroke-width="1.1" />
<line x1="113.32" y1="586.70" x2="113.32" y2="590.30" stroke="#111" stroke-width="1.35" />
<line x1="121.42" y1="586.70" x2="121.42" y2="589.90" stroke="#111" stroke-width="1.35" />
<line x1="126.15" y1="586.70" x2="126.15" y2="589.90" stroke="#111" stroke-width="1.35" />
<line x1="129.51" y1="586.70" x2="129.51" y2="589.90" stroke="#111" stroke-width="1.35" />
<line x1="132.11" y1="586.70" x2="132.11" y2="589.90" stroke="#111" stroke-width="1.35" />
<line x1="134.24" y1="586.70" x2="134.24" y2="589.90" stroke="#111" stroke-width="1.1" />
<line x1="136.04" y1="586.70" x2="136.04" y2="589.90" stroke="#111" stroke-width="1.1" />
<line x1="137.60" y1="586.70" x2="137.60" y2="589.90" stroke="#111" stroke-width="1.1" />
<line x1="138.97" y1="586.70" x2="138.97" y2="589.90" stroke="#111" stroke-width="1.1" />
<line x1="140.20" y1="586.70" x2="140.20" y2="589.90" stroke="#111" stroke-width="1.35" />
<text x="85.95" y="492.60" font-size="8.32" font-weight="bold" text-anchor="middle" stroke="#111" stroke-width="0.3">MSC-DC/maDC/Lym</text>
<polyline points="91.46,583.92 93.31,580.00 94.92,574.23 96.08,566.15 97.23,561.54 98.39,551.15 99.54,540.77 100.46,533.85 101.39,528.54 102.31,529.92 103.00,518.85 103.92,507.31 104.85,500.85 105.77,506.15 106.69,511.92 107.62,522.31 108.77,531.54 109.92,543.08 111.08,552.31 112.23,561.54 113.39,567.77 114.77,573.77 116.15,577.92 118.00,581.15 119.85,583.00 121.46,581.62 123.08,583.00 126.08,583.69 129.54,583.92" fill="none" stroke="#111" stroke-width="1.35" stroke-dasharray="2.8 1.7" stroke-linejoin="round"/>
<polyline points="71.85,583.92 74.15,583.92 74.15,583.46 76.46,583.46 76.46,582.08 77.85,582.08 77.85,577.69 79.23,577.69 79.23,571.92 79.81,571.92 79.81,567.04 80.39,567.04 80.39,563.85 80.96,563.85 80.96,559.95 81.54,559.95 81.54,555.77 82.00,555.77 82.00,550.73 82.46,550.73 82.46,546.54 82.92,546.54 82.92,543.41 83.39,543.41 83.39,539.62 83.73,539.62 83.73,537.14 84.08,537.14 84.08,533.85 84.42,533.85 84.42,531.29 84.77,531.29 84.77,531.54 85.23,531.54 85.23,533.43 85.69,533.43 85.69,538.46 86.15,538.46 86.15,541.86 86.62,541.86 86.62,543.08 87.08,543.08 87.08,542.88 87.54,542.88 87.54,544.23 88.00,544.23 88.00,545.45 88.46,545.45 88.46,548.39 88.92,548.39 88.92,551.37 89.39,551.37 89.39,551.15 89.85,551.15 89.85,550.14 90.31,550.14 90.31,549.31 90.65,549.31 90.65,547.86 91.00,547.86 91.00,544.23 91.46,544.23 91.46,541.27 91.92,541.27 91.92,538.46 92.27,538.46 92.27,534.87 92.62,534.87 92.62,530.39 93.08,530.39 93.08,526.37 93.54,526.37 93.54,524.62 94.00,524.62 94.00,523.90 94.46,523.90 94.46,522.31 94.92,522.31 94.92,520.61 95.39,520.61 95.39,516.54 95.85,516.54 95.85,515.69 96.31,515.69 96.31,514.69 96.77,514.69 96.77,517.55 97.23,517.55 97.23,518.85 97.58,518.85 97.58,518.02 97.92,518.02 97.92,516.08 98.39,516.08 98.39,514.32 98.85,514.32 98.85,515.38 99.19,515.38 99.19,519.68 99.54,519.68 99.54,522.31 100.00,522.31 100.00,525.26 100.46,525.26 100.46,527.62 100.92,527.62 100.92,528.94 101.39,528.94 101.39,531.54 101.85,531.54 101.85,532.91 102.31,532.91 102.31,537.31 102.77,537.31 102.77,542.53 103.23,542.53 103.23,545.39 103.69,545.39 103.69,549.34 104.15,549.34 104.15,553.46 104.73,553.46 104.73,558.78 105.31,558.78 105.31,562.69 105.89,562.69 105.89,567.96 106.46,567.96 106.46,570.77 107.85,570.77 107.85,577.00 109.23,577.00 109.23,581.15 111.08,581.15 111.08,583.46 114.54,583.46 114.54,583.92" fill="none" stroke="#111" stroke-width="1.25" stroke-linejoin="miter"/>
<rect x="156.00" y="479.20" width="107.60" height="105.90" fill="none" stroke="#111" stroke-width="1.5"/>
<line x1="155.30" y1="479.20" x2="264.40" y2="479.20" stroke="#111" stroke-width="1.8" />
<line x1="263.40" y1="479.20" x2="263.40" y2="585.90" stroke="#111" stroke-width="1.8" />
<line x1="152.90" y1="479.20" x2="156.10" y2="479.20" stroke="#111" stroke-width="1.3" />
<line x1="152.90" y1="505.68" x2="156.10" y2="505.68" stroke="#111" stroke-width="1.3" />
<line x1="152.90" y1="532.15" x2="156.10" y2="532.15" stroke="#111" stroke-width="1.3" />
<line x1="152.90" y1="558.62" x2="156.10" y2="558.62" stroke="#111" stroke-width="1.3" />
<line x1="152.90" y1="585.10" x2="156.10" y2="585.10" stroke="#111" stroke-width="1.3" />
<line x1="155.70" y1="586.70" x2="155.70" y2="590.30" stroke="#111" stroke-width="1.35" />
<line x1="163.79" y1="586.70" x2="163.79" y2="589.90" stroke="#111" stroke-width="1.35" />
<line x1="168.52" y1="586.70" x2="168.52" y2="589.90" stroke="#111" stroke-width="1.35" />
<line x1="171.88" y1="586.70" x2="171.88" y2="589.90" stroke="#111" stroke-width="1.35" />
<line x1="174.48" y1="586.70" x2="174.48" y2="589.90" stroke="#111" stroke-width="1.35" />
<line x1="176.61" y1="586.70" x2="176.61" y2="589.90" stroke="#111" stroke-width="1.1" />
<line x1="178.41" y1="586.70" x2="178.41" y2="589.90" stroke="#111" stroke-width="1.1" />
<line x1="179.97" y1="586.70" x2="179.97" y2="589.90" stroke="#111" stroke-width="1.1" />
<line x1="181.35" y1="586.70" x2="181.35" y2="589.90" stroke="#111" stroke-width="1.1" />
<line x1="182.57" y1="586.70" x2="182.57" y2="590.30" stroke="#111" stroke-width="1.35" />
<line x1="190.67" y1="586.70" x2="190.67" y2="589.90" stroke="#111" stroke-width="1.35" />
<line x1="195.40" y1="586.70" x2="195.40" y2="589.90" stroke="#111" stroke-width="1.35" />
<line x1="198.76" y1="586.70" x2="198.76" y2="589.90" stroke="#111" stroke-width="1.35" />
<line x1="201.36" y1="586.70" x2="201.36" y2="589.90" stroke="#111" stroke-width="1.35" />
<line x1="203.49" y1="586.70" x2="203.49" y2="589.90" stroke="#111" stroke-width="1.1" />
<line x1="205.29" y1="586.70" x2="205.29" y2="589.90" stroke="#111" stroke-width="1.1" />
<line x1="206.85" y1="586.70" x2="206.85" y2="589.90" stroke="#111" stroke-width="1.1" />
<line x1="208.22" y1="586.70" x2="208.22" y2="589.90" stroke="#111" stroke-width="1.1" />
<line x1="209.45" y1="586.70" x2="209.45" y2="590.30" stroke="#111" stroke-width="1.35" />
<line x1="217.54" y1="586.70" x2="217.54" y2="589.90" stroke="#111" stroke-width="1.35" />
<line x1="222.27" y1="586.70" x2="222.27" y2="589.90" stroke="#111" stroke-width="1.35" />
<line x1="225.63" y1="586.70" x2="225.63" y2="589.90" stroke="#111" stroke-width="1.35" />
<line x1="228.23" y1="586.70" x2="228.23" y2="589.90" stroke="#111" stroke-width="1.35" />
<line x1="230.36" y1="586.70" x2="230.36" y2="589.90" stroke="#111" stroke-width="1.1" />
<line x1="232.16" y1="586.70" x2="232.16" y2="589.90" stroke="#111" stroke-width="1.1" />
<line x1="233.72" y1="586.70" x2="233.72" y2="589.90" stroke="#111" stroke-width="1.1" />
<line x1="235.10" y1="586.70" x2="235.10" y2="589.90" stroke="#111" stroke-width="1.1" />
<line x1="236.32" y1="586.70" x2="236.32" y2="590.30" stroke="#111" stroke-width="1.35" />
<line x1="244.42" y1="586.70" x2="244.42" y2="589.90" stroke="#111" stroke-width="1.35" />
<line x1="249.15" y1="586.70" x2="249.15" y2="589.90" stroke="#111" stroke-width="1.35" />
<line x1="252.51" y1="586.70" x2="252.51" y2="589.90" stroke="#111" stroke-width="1.35" />
<line x1="255.11" y1="586.70" x2="255.11" y2="589.90" stroke="#111" stroke-width="1.35" />
<line x1="257.24" y1="586.70" x2="257.24" y2="589.90" stroke="#111" stroke-width="1.1" />
<line x1="259.04" y1="586.70" x2="259.04" y2="589.90" stroke="#111" stroke-width="1.1" />
<line x1="260.60" y1="586.70" x2="260.60" y2="589.90" stroke="#111" stroke-width="1.1" />
<line x1="261.97" y1="586.70" x2="261.97" y2="589.90" stroke="#111" stroke-width="1.1" />
<line x1="263.20" y1="586.70" x2="263.20" y2="589.90" stroke="#111" stroke-width="1.35" />
<text x="208.95" y="492.60" font-size="8.32" font-weight="bold" text-anchor="middle" stroke="#111" stroke-width="0.3">MSC-DC/ConA/Lym</text>
<polyline points="214.46,583.92 216.31,580.00 217.92,574.23 219.08,566.15 220.23,561.54 221.39,551.15 222.54,540.77 223.46,533.85 224.39,528.54 225.31,529.92 226.00,518.85 226.92,507.31 227.85,500.85 228.77,506.15 229.69,511.92 230.62,522.31 231.77,531.54 232.92,543.08 234.08,552.31 235.23,561.54 236.39,567.77 237.77,573.77 239.15,577.92 241.00,581.15 242.85,583.00 244.46,581.62 246.08,583.00 249.08,583.69 252.54,583.92" fill="none" stroke="#111" stroke-width="1.35" stroke-dasharray="2.8 1.7" stroke-linejoin="round"/>
<polyline points="189.08,583.92 190.69,583.92 190.69,582.31 192.08,582.31 192.08,578.85 193.46,578.85 193.46,575.39 194.85,575.39 194.85,571.46 196.23,571.46 196.23,567.77 197.62,567.77 197.62,565.46 198.77,565.46 198.77,563.15 199.69,563.15 199.69,561.77 200.62,561.77 200.62,565.00 201.54,565.00 201.54,567.77 202.69,567.77 202.69,571.46 203.85,571.46 203.85,573.08 204.77,573.08 204.77,570.08 205.69,570.08 205.69,565.46 206.62,565.46 206.62,558.54 207.54,558.54 207.54,550.00 208.46,550.00 208.46,541.92 209.39,541.92 209.39,532.69 210.31,532.69 210.31,524.62 211.23,524.62 211.23,516.54 212.15,516.54 212.15,511.46 213.08,511.46 213.08,509.62 214.00,509.62 214.00,510.77 214.92,510.77 214.92,514.23 215.85,514.23 215.85,522.31 216.77,522.31 216.77,526.92 217.69,526.92 217.69,533.85 218.62,533.85 218.62,543.08 219.54,543.08 219.54,552.31 220.46,552.31 220.46,560.39 221.39,560.39 221.39,563.85 222.31,563.85 222.31,570.77 223.46,570.77 223.46,576.08 224.85,576.08 224.85,580.00 226.69,580.00 226.69,582.54 229.46,582.54 229.46,583.46 232.92,583.46 232.92,583.92" fill="none" stroke="#111" stroke-width="1.25" stroke-linejoin="miter"/>
<rect x="279.00" y="479.20" width="107.60" height="105.90" fill="none" stroke="#111" stroke-width="1.5"/>
<line x1="278.30" y1="479.20" x2="387.40" y2="479.20" stroke="#111" stroke-width="1.8" />
<line x1="386.40" y1="479.20" x2="386.40" y2="585.90" stroke="#111" stroke-width="1.8" />
<line x1="275.90" y1="479.20" x2="279.10" y2="479.20" stroke="#111" stroke-width="1.3" />
<line x1="275.90" y1="505.68" x2="279.10" y2="505.68" stroke="#111" stroke-width="1.3" />
<line x1="275.90" y1="532.15" x2="279.10" y2="532.15" stroke="#111" stroke-width="1.3" />
<line x1="275.90" y1="558.62" x2="279.10" y2="558.62" stroke="#111" stroke-width="1.3" />
<line x1="275.90" y1="585.10" x2="279.10" y2="585.10" stroke="#111" stroke-width="1.3" />
<line x1="278.70" y1="586.70" x2="278.70" y2="590.30" stroke="#111" stroke-width="1.35" />
<line x1="286.79" y1="586.70" x2="286.79" y2="589.90" stroke="#111" stroke-width="1.35" />
<line x1="291.52" y1="586.70" x2="291.52" y2="589.90" stroke="#111" stroke-width="1.35" />
<line x1="294.88" y1="586.70" x2="294.88" y2="589.90" stroke="#111" stroke-width="1.35" />
<line x1="297.48" y1="586.70" x2="297.48" y2="589.90" stroke="#111" stroke-width="1.35" />
<line x1="299.61" y1="586.70" x2="299.61" y2="589.90" stroke="#111" stroke-width="1.1" />
<line x1="301.41" y1="586.70" x2="301.41" y2="589.90" stroke="#111" stroke-width="1.1" />
<line x1="302.97" y1="586.70" x2="302.97" y2="589.90" stroke="#111" stroke-width="1.1" />
<line x1="304.35" y1="586.70" x2="304.35" y2="589.90" stroke="#111" stroke-width="1.1" />
<line x1="305.58" y1="586.70" x2="305.58" y2="590.30" stroke="#111" stroke-width="1.35" />
<line x1="313.67" y1="586.70" x2="313.67" y2="589.90" stroke="#111" stroke-width="1.35" />
<line x1="318.40" y1="586.70" x2="318.40" y2="589.90" stroke="#111" stroke-width="1.35" />
<line x1="321.76" y1="586.70" x2="321.76" y2="589.90" stroke="#111" stroke-width="1.35" />
<line x1="324.36" y1="586.70" x2="324.36" y2="589.90" stroke="#111" stroke-width="1.35" />
<line x1="326.49" y1="586.70" x2="326.49" y2="589.90" stroke="#111" stroke-width="1.1" />
<line x1="328.29" y1="586.70" x2="328.29" y2="589.90" stroke="#111" stroke-width="1.1" />
<line x1="329.85" y1="586.70" x2="329.85" y2="589.90" stroke="#111" stroke-width="1.1" />
<line x1="331.22" y1="586.70" x2="331.22" y2="589.90" stroke="#111" stroke-width="1.1" />
<line x1="332.45" y1="586.70" x2="332.45" y2="590.30" stroke="#111" stroke-width="1.35" />
<line x1="340.54" y1="586.70" x2="340.54" y2="589.90" stroke="#111" stroke-width="1.35" />
<line x1="345.27" y1="586.70" x2="345.27" y2="589.90" stroke="#111" stroke-width="1.35" />
<line x1="348.63" y1="586.70" x2="348.63" y2="589.90" stroke="#111" stroke-width="1.35" />
<line x1="351.23" y1="586.70" x2="351.23" y2="589.90" stroke="#111" stroke-width="1.35" />
<line x1="353.36" y1="586.70" x2="353.36" y2="589.90" stroke="#111" stroke-width="1.1" />
<line x1="355.16" y1="586.70" x2="355.16" y2="589.90" stroke="#111" stroke-width="1.1" />
<line x1="356.72" y1="586.70" x2="356.72" y2="589.90" stroke="#111" stroke-width="1.1" />
<line x1="358.10" y1="586.70" x2="358.10" y2="589.90" stroke="#111" stroke-width="1.1" />
<line x1="359.33" y1="586.70" x2="359.33" y2="590.30" stroke="#111" stroke-width="1.35" />
<line x1="367.42" y1="586.70" x2="367.42" y2="589.90" stroke="#111" stroke-width="1.35" />
<line x1="372.15" y1="586.70" x2="372.15" y2="589.90" stroke="#111" stroke-width="1.35" />
<line x1="375.51" y1="586.70" x2="375.51" y2="589.90" stroke="#111" stroke-width="1.35" />
<line x1="378.11" y1="586.70" x2="378.11" y2="589.90" stroke="#111" stroke-width="1.35" />
<line x1="380.24" y1="586.70" x2="380.24" y2="589.90" stroke="#111" stroke-width="1.1" />
<line x1="382.04" y1="586.70" x2="382.04" y2="589.90" stroke="#111" stroke-width="1.1" />
<line x1="383.60" y1="586.70" x2="383.60" y2="589.90" stroke="#111" stroke-width="1.1" />
<line x1="384.97" y1="586.70" x2="384.97" y2="589.90" stroke="#111" stroke-width="1.1" />
<line x1="386.20" y1="586.70" x2="386.20" y2="589.90" stroke="#111" stroke-width="1.35" />
<text x="331.95" y="492.60" font-size="8.32" font-weight="bold" text-anchor="middle" stroke="#111" stroke-width="0.3">MSC-DC/Trans/maDC/Lym</text>
<polyline points="337.46,583.92 339.31,580.00 340.92,574.23 342.08,566.15 343.23,561.54 344.39,551.15 345.54,540.77 346.46,533.85 347.39,528.54 348.31,529.92 349.00,518.85 349.92,507.31 350.85,500.85 351.77,506.15 352.69,511.92 353.62,522.31 354.77,531.54 355.92,543.08 357.08,552.31 358.23,561.54 359.39,567.77 360.77,573.77 362.15,577.92 364.00,581.15 365.85,583.00 367.46,581.62 369.08,583.00 372.08,583.69 375.54,583.92" fill="none" stroke="#111" stroke-width="1.35" stroke-dasharray="2.8 1.7" stroke-linejoin="round"/>
<polyline points="297.08,583.92 298.92,583.92 298.92,583.00 300.31,583.00 300.31,580.69 301.46,580.69 301.46,576.54 302.38,576.54 302.38,571.92 302.85,571.92 302.85,568.28 303.31,568.28 303.31,563.85 303.77,563.85 303.77,560.59 304.23,560.59 304.23,555.77 304.69,555.77 304.69,552.11 305.15,552.11 305.15,546.54 305.62,546.54 305.62,544.51 306.08,544.51 306.08,539.62 306.42,539.62 306.42,536.35 306.77,536.35 306.77,531.54 307.12,531.54 307.12,529.44 307.46,529.44 307.46,524.62 307.81,524.62 307.81,521.13 308.15,521.13 308.15,520.69 308.50,520.69 308.50,523.70 308.85,523.70 308.85,526.92 309.19,526.92 309.19,529.16 309.54,529.16 309.54,528.54 309.88,528.54 309.88,525.90 310.23,525.90 310.23,522.31 310.58,522.31 310.58,523.95 310.92,523.95 310.92,523.00 311.38,523.00 311.38,525.44 311.85,525.44 311.85,530.39 312.31,530.39 312.31,531.21 312.77,531.21 312.77,532.23 313.23,532.23 313.23,528.76 313.69,528.76 313.69,526.92 314.15,526.92 314.15,526.26 314.62,526.26 314.62,525.31 315.08,525.31 315.08,529.24 315.54,529.24 315.54,532.69 316.00,532.69 316.00,534.00 316.46,534.00 316.46,538.46 316.92,538.46 316.92,541.01 317.38,541.01 317.38,545.39 317.85,545.39 317.85,548.13 318.31,548.13 318.31,552.31 318.77,552.31 318.77,556.54 319.23,556.54 319.23,558.08 319.69,558.08 319.69,561.82 320.15,561.82 320.15,563.85 320.73,563.85 320.73,565.05 321.31,565.05 321.31,568.46 321.88,568.46 321.88,571.38 322.46,571.38 322.46,572.39 323.15,572.39 323.15,572.83 323.85,572.83 323.85,575.62 325.23,575.62 325.23,578.39 327.08,578.39 327.08,580.69 328.92,580.69 328.92,581.62 330.77,581.62 330.77,583.00 334.00,583.00 334.00,583.46 337.46,583.46 337.46,583.92" fill="none" stroke="#111" stroke-width="1.25" stroke-linejoin="miter"/>
<rect x="402.00" y="479.20" width="107.60" height="105.90" fill="none" stroke="#111" stroke-width="1.5"/>
<line x1="401.30" y1="479.20" x2="510.40" y2="479.20" stroke="#111" stroke-width="1.8" />
<line x1="509.40" y1="479.20" x2="509.40" y2="585.90" stroke="#111" stroke-width="1.8" />
<line x1="398.90" y1="479.20" x2="402.10" y2="479.20" stroke="#111" stroke-width="1.3" />
<line x1="398.90" y1="505.68" x2="402.10" y2="505.68" stroke="#111" stroke-width="1.3" />
<line x1="398.90" y1="532.15" x2="402.10" y2="532.15" stroke="#111" stroke-width="1.3" />
<line x1="398.90" y1="558.62" x2="402.10" y2="558.62" stroke="#111" stroke-width="1.3" />
<line x1="398.90" y1="585.10" x2="402.10" y2="585.10" stroke="#111" stroke-width="1.3" />
<line x1="401.70" y1="586.70" x2="401.70" y2="590.30" stroke="#111" stroke-width="1.35" />
<line x1="409.79" y1="586.70" x2="409.79" y2="589.90" stroke="#111" stroke-width="1.35" />
<line x1="414.52" y1="586.70" x2="414.52" y2="589.90" stroke="#111" stroke-width="1.35" />
<line x1="417.88" y1="586.70" x2="417.88" y2="589.90" stroke="#111" stroke-width="1.35" />
<line x1="420.48" y1="586.70" x2="420.48" y2="589.90" stroke="#111" stroke-width="1.35" />
<line x1="422.61" y1="586.70" x2="422.61" y2="589.90" stroke="#111" stroke-width="1.1" />
<line x1="424.41" y1="586.70" x2="424.41" y2="589.90" stroke="#111" stroke-width="1.1" />
<line x1="425.97" y1="586.70" x2="425.97" y2="589.90" stroke="#111" stroke-width="1.1" />
<line x1="427.35" y1="586.70" x2="427.35" y2="589.90" stroke="#111" stroke-width="1.1" />
<line x1="428.58" y1="586.70" x2="428.58" y2="590.30" stroke="#111" stroke-width="1.35" />
<line x1="436.67" y1="586.70" x2="436.67" y2="589.90" stroke="#111" stroke-width="1.35" />
<line x1="441.40" y1="586.70" x2="441.40" y2="589.90" stroke="#111" stroke-width="1.35" />
<line x1="444.76" y1="586.70" x2="444.76" y2="589.90" stroke="#111" stroke-width="1.35" />
<line x1="447.36" y1="586.70" x2="447.36" y2="589.90" stroke="#111" stroke-width="1.35" />
<line x1="449.49" y1="586.70" x2="449.49" y2="589.90" stroke="#111" stroke-width="1.1" />
<line x1="451.29" y1="586.70" x2="451.29" y2="589.90" stroke="#111" stroke-width="1.1" />
<line x1="452.85" y1="586.70" x2="452.85" y2="589.90" stroke="#111" stroke-width="1.1" />
<line x1="454.22" y1="586.70" x2="454.22" y2="589.90" stroke="#111" stroke-width="1.1" />
<line x1="455.45" y1="586.70" x2="455.45" y2="590.30" stroke="#111" stroke-width="1.35" />
<line x1="463.54" y1="586.70" x2="463.54" y2="589.90" stroke="#111" stroke-width="1.35" />
<line x1="468.27" y1="586.70" x2="468.27" y2="589.90" stroke="#111" stroke-width="1.35" />
<line x1="471.63" y1="586.70" x2="471.63" y2="589.90" stroke="#111" stroke-width="1.35" />
<line x1="474.23" y1="586.70" x2="474.23" y2="589.90" stroke="#111" stroke-width="1.35" />
<line x1="476.36" y1="586.70" x2="476.36" y2="589.90" stroke="#111" stroke-width="1.1" />
<line x1="478.16" y1="586.70" x2="478.16" y2="589.90" stroke="#111" stroke-width="1.1" />
<line x1="479.72" y1="586.70" x2="479.72" y2="589.90" stroke="#111" stroke-width="1.1" />
<line x1="481.10" y1="586.70" x2="481.10" y2="589.90" stroke="#111" stroke-width="1.1" />
<line x1="482.33" y1="586.70" x2="482.33" y2="590.30" stroke="#111" stroke-width="1.35" />
<line x1="490.42" y1="586.70" x2="490.42" y2="589.90" stroke="#111" stroke-width="1.35" />
<line x1="495.15" y1="586.70" x2="495.15" y2="589.90" stroke="#111" stroke-width="1.35" />
<line x1="498.51" y1="586.70" x2="498.51" y2="589.90" stroke="#111" stroke-width="1.35" />
<line x1="501.11" y1="586.70" x2="501.11" y2="589.90" stroke="#111" stroke-width="1.35" />
<line x1="503.24" y1="586.70" x2="503.24" y2="589.90" stroke="#111" stroke-width="1.1" />
<line x1="505.04" y1="586.70" x2="505.04" y2="589.90" stroke="#111" stroke-width="1.1" />
<line x1="506.60" y1="586.70" x2="506.60" y2="589.90" stroke="#111" stroke-width="1.1" />
<line x1="507.97" y1="586.70" x2="507.97" y2="589.90" stroke="#111" stroke-width="1.1" />
<line x1="509.20" y1="586.70" x2="509.20" y2="589.90" stroke="#111" stroke-width="1.35" />
<text x="454.95" y="492.60" font-size="8.32" font-weight="bold" text-anchor="middle" stroke="#111" stroke-width="0.3">MSC-DC/Trans/ConA/Lym</text>
<polyline points="460.46,583.92 462.31,580.00 463.92,574.23 465.08,566.15 466.23,561.54 467.39,551.15 468.54,540.77 469.46,533.85 470.39,528.54 471.31,529.92 472.00,518.85 472.92,507.31 473.85,500.85 474.77,506.15 475.69,511.92 476.62,522.31 477.77,531.54 478.92,543.08 480.08,552.31 481.23,561.54 482.39,567.77 483.77,573.77 485.15,577.92 487.00,581.15 488.85,583.00 490.46,581.62 492.08,583.00 495.08,583.69 498.54,583.92" fill="none" stroke="#111" stroke-width="1.35" stroke-dasharray="2.8 1.7" stroke-linejoin="round"/>
<polyline points="409.69,583.92 411.31,583.92 411.31,583.00 412.69,583.00 412.69,579.31 413.85,579.31 413.85,574.23 414.42,574.23 414.42,571.14 415.00,571.14 415.00,566.15 415.58,566.15 415.58,563.16 416.15,563.16 416.15,558.08 416.73,558.08 416.73,553.41 417.31,553.41 417.31,548.85 417.88,548.85 417.88,542.88 418.46,542.88 418.46,538.46 419.04,538.46 419.04,531.08 419.62,531.08 419.62,526.92 420.08,526.92 420.08,524.56 420.54,524.56 420.54,521.15 421.00,521.15 421.00,518.17 421.46,518.17 421.46,515.38 421.92,515.38 421.92,514.49 422.38,514.49 422.38,511.92 422.85,511.92 422.85,509.78 423.31,509.78 423.31,508.46 423.77,508.46 423.77,508.53 424.23,508.53 424.23,506.85 424.69,506.85 424.69,507.50 425.15,507.50 425.15,509.62 425.50,509.62 425.50,513.82 425.85,513.82 425.85,516.08 426.19,516.08 426.19,514.74 426.54,514.74 426.54,511.92 426.88,511.92 426.88,510.49 427.23,510.49 427.23,509.62 427.69,509.62 427.69,510.66 428.15,510.66 428.15,511.46 428.50,511.46 428.50,512.86 428.85,512.86 428.85,513.08 429.19,513.08 429.19,516.12 429.54,516.12 429.54,521.15 430.00,521.15 430.00,524.79 430.46,524.79 430.46,528.08 430.92,528.08 430.92,533.10 431.38,533.10 431.38,536.15 431.85,536.15 431.85,538.86 432.31,538.86 432.31,543.08 432.77,543.08 432.77,547.52 433.23,547.52 433.23,550.00 433.69,550.00 433.69,554.64 434.15,554.64 434.15,558.08 434.62,558.08 434.62,562.07 435.08,562.07 435.08,563.85 435.65,563.85 435.65,565.62 436.23,565.62 436.23,568.46 436.81,568.46 436.81,569.11 437.38,569.11 437.38,572.39 437.96,572.39 437.96,574.51 438.54,574.51 438.54,574.69 439.23,574.69 439.23,576.37 439.92,576.37 439.92,576.08 441.31,576.08 441.31,577.69 442.69,577.69 442.69,578.85 444.08,578.85 444.08,577.92 445.46,577.92 445.46,580.00 446.85,580.00 446.85,579.31 448.23,579.31 448.23,582.08 450.08,582.08 450.08,583.00 453.54,583.00 453.54,583.46 457.00,583.46 457.00,583.92" fill="none" stroke="#111" stroke-width="1.25" stroke-linejoin="miter"/>
<line x1="163.00" y1="601.00" x2="362.00" y2="601.00" stroke="#111" stroke-width="1.8" />
<polygon points="378.3,601 359.8,596.1 361.6,601 359.8,605.9" fill="#111"/>
<text x="246.00" y="621.40" font-size="16.5" font-weight="bold" text-anchor="start" >CFSE</text>
</g>
<g id="panelB">
<text x="0.90" y="653.80" font-size="16.6" font-weight="bold" text-anchor="start" >B</text>
<text x="41.00" y="797.80" font-size="12.6" font-weight="bold" text-anchor="start" transform="rotate(-90 41.00 797.80)" >Cytokine levels (pg/mL)</text>
<line x1="92.20" y1="667.00" x2="92.20" y2="789.80" stroke="#151515" stroke-width="1.2" />
<line x1="91.70" y1="789.30" x2="411.30" y2="789.30" stroke="#151515" stroke-width="1.2" />
<line x1="92.20" y1="789.30" x2="95.40" y2="789.30" stroke="#151515" stroke-width="1.1" />
<text x="81.40" y="793.70" font-size="13" font-weight="bold" text-anchor="end" >0</text>
<line x1="92.20" y1="774.07" x2="95.40" y2="774.07" stroke="#151515" stroke-width="1.1" />
<text x="81.40" y="778.47" font-size="13" font-weight="bold" text-anchor="end" >200</text>
<line x1="92.20" y1="758.85" x2="95.40" y2="758.85" stroke="#151515" stroke-width="1.1" />
<text x="81.40" y="763.25" font-size="13" font-weight="bold" text-anchor="end" >400</text>
<line x1="92.20" y1="743.62" x2="95.40" y2="743.62" stroke="#151515" stroke-width="1.1" />
<text x="81.40" y="748.02" font-size="13" font-weight="bold" text-anchor="end" >600</text>
<line x1="92.20" y1="728.40" x2="95.40" y2="728.40" stroke="#151515" stroke-width="1.1" />
<text x="81.40" y="732.80" font-size="13" font-weight="bold" text-anchor="end" >800</text>
<line x1="92.20" y1="713.17" x2="95.40" y2="713.17" stroke="#151515" stroke-width="1.1" />
<text x="81.40" y="717.57" font-size="13" font-weight="bold" text-anchor="end" >1000</text>
<line x1="92.20" y1="697.95" x2="95.40" y2="697.95" stroke="#151515" stroke-width="1.1" />
<text x="81.40" y="702.35" font-size="13" font-weight="bold" text-anchor="end" >1200</text>
<line x1="92.20" y1="682.73" x2="95.40" y2="682.73" stroke="#151515" stroke-width="1.1" />
<text x="81.40" y="687.12" font-size="13" font-weight="bold" text-anchor="end" >1400</text>
<line x1="92.20" y1="667.50" x2="95.40" y2="667.50" stroke="#151515" stroke-width="1.1" />
<text x="81.40" y="671.90" font-size="13" font-weight="bold" text-anchor="end" >1600</text>
<line x1="127.60" y1="789.30" x2="127.60" y2="786.10" stroke="#151515" stroke-width="1.1" />
<line x1="163.00" y1="789.30" x2="163.00" y2="786.10" stroke="#151515" stroke-width="1.1" />
<line x1="198.40" y1="789.30" x2="198.40" y2="786.10" stroke="#151515" stroke-width="1.1" />
<line x1="233.80" y1="789.30" x2="233.80" y2="786.10" stroke="#151515" stroke-width="1.1" />
<line x1="269.20" y1="789.30" x2="269.20" y2="786.10" stroke="#151515" stroke-width="1.1" />
<line x1="304.60" y1="789.30" x2="304.60" y2="786.10" stroke="#151515" stroke-width="1.1" />
<line x1="340.00" y1="789.30" x2="340.00" y2="786.10" stroke="#151515" stroke-width="1.1" />
<line x1="375.40" y1="789.30" x2="375.40" y2="786.10" stroke="#151515" stroke-width="1.1" />
<line x1="410.80" y1="789.30" x2="410.80" y2="786.10" stroke="#151515" stroke-width="1.1" />
<rect x="99.60" y="784.20" width="9.80" height="5.10" fill="#fff" stroke="#111" stroke-width="1.1"/>
<rect x="109.40" y="774.30" width="10.00" height="15.50" fill="#000"/>
<line x1="104.45" y1="783.00" x2="104.45" y2="785.40" stroke="#111" stroke-width="1.1" />
<line x1="101.85" y1="783.00" x2="107.05" y2="783.00" stroke="#111" stroke-width="1.2" />
<line x1="101.85" y1="785.40" x2="107.05" y2="785.40" stroke="#111" stroke-width="1.2" />
<line x1="114.40" y1="774.30" x2="114.40" y2="772.30" stroke="#111" stroke-width="1.1" />
<line x1="111.80" y1="772.30" x2="117.00" y2="772.30" stroke="#111" stroke-width="1.2" />
<rect x="135.00" y="748.50" width="9.30" height="40.80" fill="#fff" stroke="#111" stroke-width="1.1"/>
<rect x="144.30" y="730.60" width="10.50" height="59.20" fill="#000"/>
<line x1="139.60" y1="744.50" x2="139.60" y2="753.00" stroke="#111" stroke-width="1.1" />
<line x1="137.00" y1="744.50" x2="142.20" y2="744.50" stroke="#111" stroke-width="1.2" />
<line x1="137.00" y1="753.00" x2="142.20" y2="753.00" stroke="#111" stroke-width="1.2" />
<line x1="149.55" y1="730.60" x2="149.55" y2="727.50" stroke="#111" stroke-width="1.1" />
<line x1="146.95" y1="727.50" x2="152.15" y2="727.50" stroke="#111" stroke-width="1.2" />
<rect x="170.30" y="730.60" width="8.90" height="58.70" fill="#fff" stroke="#111" stroke-width="1.1"/>
<rect x="179.20" y="690.00" width="10.30" height="99.80" fill="#000"/>
<line x1="174.70" y1="724.80" x2="174.70" y2="735.80" stroke="#111" stroke-width="1.1" />
<line x1="172.10" y1="724.80" x2="177.30" y2="724.80" stroke="#111" stroke-width="1.2" />
<line x1="172.10" y1="735.80" x2="177.30" y2="735.80" stroke="#111" stroke-width="1.2" />
<line x1="184.35" y1="690.00" x2="184.35" y2="676.20" stroke="#111" stroke-width="1.1" />
<line x1="181.75" y1="676.20" x2="186.95" y2="676.20" stroke="#111" stroke-width="1.2" />
<rect x="205.10" y="783.00" width="9.90" height="6.30" fill="#fff" stroke="#111" stroke-width="1.1"/>
<rect x="215.00" y="773.00" width="9.80" height="16.80" fill="#000"/>
<line x1="210.00" y1="780.30" x2="210.00" y2="785.80" stroke="#111" stroke-width="1.1" />
<line x1="207.40" y1="780.30" x2="212.60" y2="780.30" stroke="#111" stroke-width="1.2" />
<line x1="207.40" y1="785.80" x2="212.60" y2="785.80" stroke="#111" stroke-width="1.2" />
<line x1="219.90" y1="773.00" x2="219.90" y2="771.00" stroke="#111" stroke-width="1.1" />
<line x1="217.30" y1="771.00" x2="222.50" y2="771.00" stroke="#111" stroke-width="1.2" />
<rect x="240.70" y="783.40" width="9.70" height="5.90" fill="#fff" stroke="#111" stroke-width="1.1"/>
<rect x="250.40" y="774.20" width="10.30" height="15.60" fill="#000"/>
<line x1="245.50" y1="781.80" x2="245.50" y2="785.20" stroke="#111" stroke-width="1.1" />
<line x1="242.90" y1="781.80" x2="248.10" y2="781.80" stroke="#111" stroke-width="1.2" />
<line x1="242.90" y1="785.20" x2="248.10" y2="785.20" stroke="#111" stroke-width="1.2" />
<line x1="255.55" y1="774.20" x2="255.55" y2="774.00" stroke="#111" stroke-width="1.1" />
<line x1="252.95" y1="774.00" x2="258.15" y2="774.00" stroke="#111" stroke-width="1.2" />
<rect x="275.80" y="771.70" width="9.90" height="17.60" fill="#fff" stroke="#111" stroke-width="1.1"/>
<rect x="285.70" y="758.90" width="10.40" height="30.90" fill="#000"/>
<line x1="280.70" y1="767.00" x2="280.70" y2="776.80" stroke="#111" stroke-width="1.1" />
<line x1="278.10" y1="767.00" x2="283.30" y2="767.00" stroke="#111" stroke-width="1.2" />
<line x1="278.10" y1="776.80" x2="283.30" y2="776.80" stroke="#111" stroke-width="1.2" />
<line x1="290.90" y1="758.90" x2="290.90" y2="753.40" stroke="#111" stroke-width="1.1" />
<line x1="288.30" y1="753.40" x2="293.50" y2="753.40" stroke="#111" stroke-width="1.2" />
<rect x="311.60" y="757.00" width="9.20" height="32.30" fill="#fff" stroke="#111" stroke-width="1.1"/>
<rect x="320.80" y="741.30" width="10.00" height="48.50" fill="#000"/>
<line x1="316.15" y1="754.60" x2="316.15" y2="759.60" stroke="#111" stroke-width="1.1" />
<line x1="313.55" y1="754.60" x2="318.75" y2="754.60" stroke="#111" stroke-width="1.2" />
<line x1="313.55" y1="759.60" x2="318.75" y2="759.60" stroke="#111" stroke-width="1.2" />
<line x1="325.80" y1="741.30" x2="325.80" y2="738.00" stroke="#111" stroke-width="1.1" />
<line x1="323.20" y1="738.00" x2="328.40" y2="738.00" stroke="#111" stroke-width="1.2" />
<rect x="346.70" y="749.40" width="9.90" height="39.90" fill="#fff" stroke="#111" stroke-width="1.1"/>
<rect x="356.60" y="731.10" width="9.70" height="58.70" fill="#000"/>
<line x1="351.60" y1="745.00" x2="351.60" y2="754.00" stroke="#111" stroke-width="1.1" />
<line x1="349.00" y1="745.00" x2="354.20" y2="745.00" stroke="#111" stroke-width="1.2" />
<line x1="349.00" y1="754.00" x2="354.20" y2="754.00" stroke="#111" stroke-width="1.2" />
<line x1="361.45" y1="731.10" x2="361.45" y2="728.50" stroke="#111" stroke-width="1.1" />
<line x1="358.85" y1="728.50" x2="364.05" y2="728.50" stroke="#111" stroke-width="1.2" />
<rect x="382.10" y="731.10" width="9.60" height="58.20" fill="#fff" stroke="#111" stroke-width="1.1"/>
<rect x="391.70" y="698.20" width="10.00" height="91.60" fill="#000"/>
<line x1="386.85" y1="724.90" x2="386.85" y2="737.70" stroke="#111" stroke-width="1.1" />
<line x1="384.25" y1="724.90" x2="389.45" y2="724.90" stroke="#111" stroke-width="1.2" />
<line x1="384.25" y1="737.70" x2="389.45" y2="737.70" stroke="#111" stroke-width="1.2" />
<line x1="396.70" y1="698.20" x2="396.70" y2="690.20" stroke="#111" stroke-width="1.1" />
<line x1="394.10" y1="690.20" x2="399.30" y2="690.20" stroke="#111" stroke-width="1.2" />
<polyline points="139.40,724.10 139.40,721.70 150.80,721.70 150.80,724.10" fill="none" stroke="#151515" stroke-width="1.2" />
<polyline points="174.50,673.00 174.50,670.60 185.40,670.60 185.40,673.00" fill="none" stroke="#151515" stroke-width="1.2" />
<polyline points="280.40,737.20 280.40,734.80 293.20,734.80 293.20,737.20" fill="none" stroke="#151515" stroke-width="1.2" />
<polyline points="314.80,721.80 314.80,719.40 326.80,719.40 326.80,721.80" fill="none" stroke="#151515" stroke-width="1.2" />
<polyline points="350.60,725.40 350.60,723.00 362.30,723.00 362.30,725.40" fill="none" stroke="#151515" stroke-width="1.2" />
<polyline points="386.40,686.40 386.40,684.00 397.60,684.00 397.60,686.40" fill="none" stroke="#151515" stroke-width="1.2" />
<polyline points="144.90,721.70 144.90,664.30 357.00,664.30 357.00,723.00" fill="none" stroke="#151515" stroke-width="1.15" />
<line x1="286.60" y1="664.30" x2="286.60" y2="734.80" stroke="#151515" stroke-width="1.15" />
<polyline points="180.00,670.60 180.00,652.70 392.20,652.70 392.20,684.00" fill="none" stroke="#151515" stroke-width="1.15" />
<line x1="321.20" y1="652.70" x2="321.20" y2="719.40" stroke="#151515" stroke-width="1.15" />
<text x="280.40" y="768.20" font-size="19" font-weight="normal" text-anchor="middle" style="font-family:'DejaVu Sans',sans-serif">*</text>
<text x="291.40" y="755.00" font-size="19" font-weight="normal" text-anchor="middle" style="font-family:'DejaVu Sans',sans-serif">*</text>
<text x="315.90" y="757.20" font-size="19" font-weight="normal" text-anchor="middle" style="font-family:'DejaVu Sans',sans-serif">*</text>
<text x="325.70" y="739.70" font-size="19" font-weight="normal" text-anchor="middle" style="font-family:'DejaVu Sans',sans-serif">*</text>
<rect x="418.60" y="708.30" width="92.30" height="40.00" fill="#fff" stroke="#222" stroke-width="1.1"/>
<rect x="424.30" y="716.50" width="7.00" height="7.00" fill="#fff" stroke="#111" stroke-width="1"/>
<rect x="423.80" y="735.60" width="7.90" height="7.60" fill="#000"/>
<text x="434.60" y="724.30" font-size="13.2" font-weight="bold" text-anchor="start" >IFN-gamma</text>
<text x="434.60" y="743.50" font-size="13.2" font-weight="bold" text-anchor="start" >IL-2</text>
<text x="104.70" y="812.00" font-size="13.2" font-weight="bold" text-anchor="end" transform="rotate(-45 104.70 812.00)" >Lym</text>
<text x="140.00" y="812.00" font-size="13.2" font-weight="bold" text-anchor="end" transform="rotate(-45 140.00 812.00)" >maDC/Lym</text>
<text x="175.30" y="812.00" font-size="13.2" font-weight="bold" text-anchor="end" transform="rotate(-45 175.30 812.00)" >ConA/Lym</text>
<text x="210.60" y="812.00" font-size="13.2" font-weight="bold" text-anchor="end" transform="rotate(-45 210.60 812.00)" >MSC-DC/Lym</text>
<text x="245.90" y="812.00" font-size="13.2" font-weight="bold" text-anchor="end" transform="rotate(-45 245.90 812.00)" >MSC-DC/Trans/Lym</text>
<text x="281.20" y="812.00" font-size="13.2" font-weight="bold" text-anchor="end" transform="rotate(-45 281.20 812.00)" >MSC-DC/maDC/Lym</text>
<text x="316.50" y="812.00" font-size="13.2" font-weight="bold" text-anchor="end" transform="rotate(-45 316.50 812.00)" >MSC-DC/ConA/Lym</text>
<text x="351.80" y="812.00" font-size="13.2" font-weight="bold" text-anchor="end" transform="rotate(-45 351.80 812.00)" >MSC-DC/Trans/maDC/Lym</text>
<text x="387.10" y="812.00" font-size="13.2" font-weight="bold" text-anchor="end" transform="rotate(-45 387.10 812.00)" >MSC-DC/Trans/ConA/Lym</text>
</g>
</svg>
</body></html>
